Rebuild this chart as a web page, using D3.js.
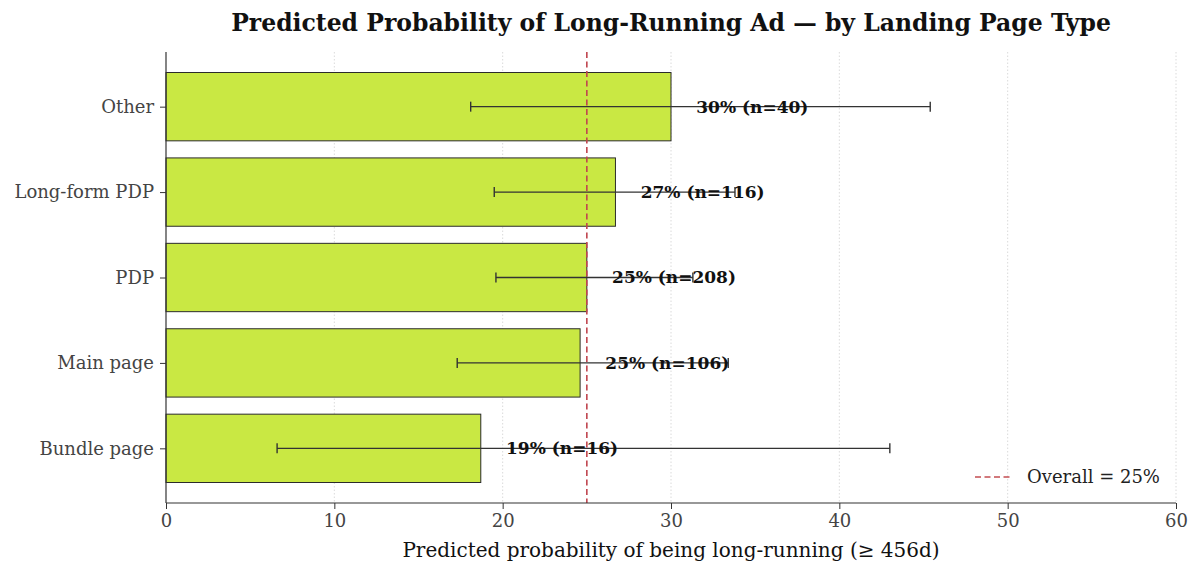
<!DOCTYPE html>
<html>

<head>
    <title>Predicted Probability of Long-Running Ad</title>
    <script src="https://d3js.org/d3.v7.min.js"></script>
    <style>
        body {
            margin: 0;
            background: white;
        }

        text {
            font-family: "DejaVu Serif", serif;
        }
    </style>
</head>

<body>
    <div id="chart"></div>

    <script>
        // data, top to bottom
        const categories = ["Other", "Long-form PDP", "PDP", "Main page", "Bundle page"];
        const probs = [30.0, 26.7, 25.0, 24.6, 18.7];
        const ciLow = [18.1, 19.5, 19.6, 17.3, 6.6];
        const ciHigh = [45.4, 33.8, 31.3, 33.4, 43.0];
        const counts = [40, 116, 208, 106, 16];
        const labels = ["30%", "27%", "25%", "25%", "19%"];
        const overall = 25;
        const xTicks = [0, 10, 20, 30, 40, 50, 60];

        const W = 1200, H = 575;
        const margin = { top: 52, right: 24, bottom: 72, left: 166 };
        const width = W - margin.left - margin.right,
            height = H - margin.top - margin.bottom;

        const svg = d3.select("#chart").append("svg")
            .attr("width", W)
            .attr("height", H);

        const g = svg.append("g")
            .attr("transform", "translate(" + margin.left + "," + margin.top + ")");

        const x = d3.scaleLinear().domain([0, 60]).range([0, width]);
        // index 0 at top, bars 0.8 tall, matplotlib-style margins
        const y = d3.scaleLinear().domain([-0.64, 4.64]).range([0, height]);
        const barH = y(0.8) - y(0);

        // grid
        g.selectAll(".grid").data(xTicks.slice(1)).enter().append("line")
            .attr("x1", d => x(d)).attr("x2", d => x(d))
            .attr("y1", 0).attr("y2", height)
            .attr("stroke", "#d0d0d0")
            .attr("stroke-width", 0.8)
            .attr("stroke-dasharray", "1.5,2");

        // bars
        g.selectAll(".bar").data(probs).enter().append("rect")
            .attr("x", x(0))
            .attr("y", (d, i) => y(i) - barH / 2)
            .attr("width", d => x(d) - x(0))
            .attr("height", barH)
            .attr("fill", "#c9e843")
            .attr("stroke", "#2b2b2b")
            .attr("stroke-width", 1);

        // error bars
        const eb = g.selectAll(".err").data(categories).enter().append("g");
        eb.append("line")
            .attr("x1", (d, i) => x(ciLow[i])).attr("x2", (d, i) => x(ciHigh[i]))
            .attr("y1", (d, i) => y(i)).attr("y2", (d, i) => y(i))
            .attr("stroke", "#333").attr("stroke-width", 1.4);
        eb.append("line")
            .attr("x1", (d, i) => x(ciLow[i])).attr("x2", (d, i) => x(ciLow[i]))
            .attr("y1", (d, i) => y(i) - 5).attr("y2", (d, i) => y(i) + 5)
            .attr("stroke", "#333").attr("stroke-width", 1.4);
        eb.append("line")
            .attr("x1", (d, i) => x(ciHigh[i])).attr("x2", (d, i) => x(ciHigh[i]))
            .attr("y1", (d, i) => y(i) - 5).attr("y2", (d, i) => y(i) + 5)
            .attr("stroke", "#333").attr("stroke-width", 1.4);

        // overall reference line
        g.append("line")
            .attr("x1", x(overall)).attr("x2", x(overall))
            .attr("y1", 0).attr("y2", height)
            .attr("stroke", "#c0454f")
            .attr("stroke-width", 1.6)
            .attr("stroke-dasharray", "6,3.5");

        // value labels
        g.selectAll(".lbl").data(probs).enter().append("text")
            .attr("x", d => x(d + 1.5))
            .attr("y", (d, i) => y(i))
            .attr("dy", "0.35em")
            .attr("font-size", 17)
            .attr("font-weight", "bold")
            .attr("fill", "#111")
            .text((d, i) => labels[i] + " (n=" + counts[i] + ")");

        // axes
        const xAxis = g.append("g")
            .attr("transform", "translate(0," + height + ")")
            .call(d3.axisBottom(x).tickValues(xTicks).tickSize(6).tickPadding(5));
        xAxis.selectAll("text").attr("font-size", 18).attr("fill", "#444")
            .style("font-family", "DejaVu Serif");

        const yAxis = g.append("g")
            .call(d3.axisLeft(y).tickValues(d3.range(categories.length))
                .tickFormat(i => categories[i]).tickSize(6).tickPadding(6));
        yAxis.selectAll("text").attr("font-size", 18).attr("fill", "#444")
            .style("font-family", "DejaVu Serif");

        g.selectAll(".domain").attr("stroke", "#333").attr("stroke-width", 1.2);
        g.selectAll(".tick line").attr("stroke", "#333");
        xAxis.select(".domain").attr("d", "M0,0H" + width);
        yAxis.select(".domain").attr("d", "M0,0V" + height);

        // legend
        const leg = g.append("g").attr("transform", "translate(" + (width - 210) + "," + (height - 26) + ")");
        leg.append("line")
            .attr("x1", 9).attr("x2", 46)
            .attr("y1", 0).attr("y2", 0)
            .attr("stroke", "#c44e52")
            .attr("stroke-width", 1.6)
            .attr("stroke-dasharray", "6,3.5");
        leg.append("text")
            .attr("x", 61).attr("y", 0).attr("dy", "0.35em")
            .attr("font-size", 18).attr("fill", "#222")
            .text("Overall = " + overall + "%");

        // title
        svg.append("text")
            .attr("x", margin.left + width / 2)
            .attr("y", 31)
            .attr("text-anchor", "middle")
            .attr("font-size", 23.5)
            .attr("font-weight", "bold")
            .attr("fill", "#111")
            .text("Predicted Probability of Long-Running Ad \u2014 by Landing Page Type");

        // x label
        svg.append("text")
            .attr("x", margin.left + width / 2)
            .attr("y", 557)
            .attr("text-anchor", "middle")
            .attr("font-size", 20)
            .attr("fill", "#111")
            .text("Predicted probability of being long-running (\u2265 456d)");
    </script>
</body>

</html>
